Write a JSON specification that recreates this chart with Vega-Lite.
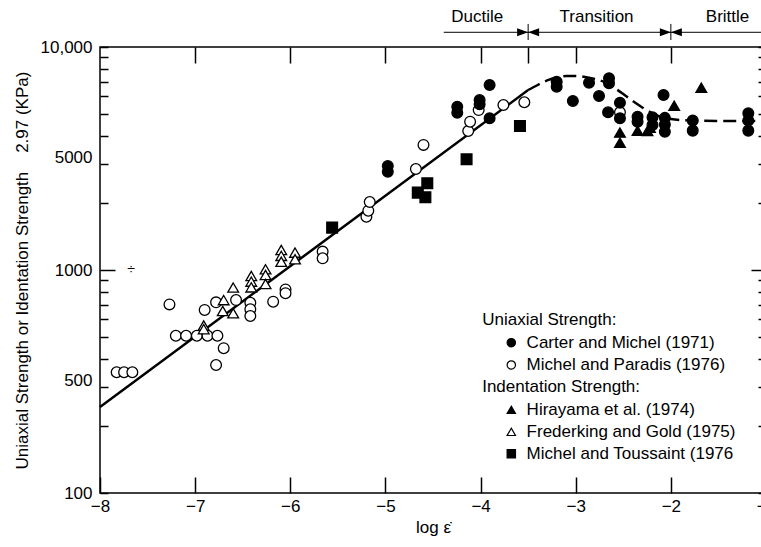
{
  "$schema": "https://vega.github.io/schema/vega-lite/v6.json",
  "width": 666,
  "height": 446,
  "autosize": {"type": "none"},
  "padding": {"left": 100, "top": 47, "right": 0, "bottom": 54},
  "background": "#ffffff",
  "config": {
    "font": "Liberation Sans",
    "view": {"stroke": "#000000", "strokeWidth": 1.5},
    "axis": {
      "domain": false, "grid": false,
      "labelFont": "Liberation Sans", "labelFontSize": 17, "labelColor": "#000000",
      "titleFont": "Liberation Sans", "titleFontSize": 17, "titleColor": "#000000", "titleFontWeight": "normal",
      "tickColor": "#000000", "tickWidth": 1.5, "labelFlush": false, "labelOverlap": false
    }
  },
  "datasets": {
    "pts": [
      {"x": -7.825, "y": 348, "s": "Michel and Paradis (1976)"},
      {"x": -7.747, "y": 348, "s": "Michel and Paradis (1976)"},
      {"x": -7.66, "y": 348, "s": "Michel and Paradis (1976)"},
      {"x": -7.27, "y": 701, "s": "Michel and Paradis (1976)"},
      {"x": -7.203, "y": 507, "s": "Michel and Paradis (1976)"},
      {"x": -7.095, "y": 507, "s": "Michel and Paradis (1976)"},
      {"x": -6.982, "y": 507, "s": "Michel and Paradis (1976)"},
      {"x": -6.87, "y": 507, "s": "Michel and Paradis (1976)"},
      {"x": -6.766, "y": 507, "s": "Michel and Paradis (1976)"},
      {"x": -6.90, "y": 662, "s": "Michel and Paradis (1976)"},
      {"x": -6.78, "y": 716, "s": "Michel and Paradis (1976)"},
      {"x": -6.70, "y": 446, "s": "Michel and Paradis (1976)"},
      {"x": -6.78, "y": 375, "s": "Michel and Paradis (1976)"},
      {"x": -6.57, "y": 733, "s": "Michel and Paradis (1976)"},
      {"x": -6.42, "y": 713, "s": "Michel and Paradis (1976)"},
      {"x": -6.42, "y": 667, "s": "Michel and Paradis (1976)"},
      {"x": -6.42, "y": 622, "s": "Michel and Paradis (1976)"},
      {"x": -6.18, "y": 721, "s": "Michel and Paradis (1976)"},
      {"x": -6.05, "y": 818, "s": "Michel and Paradis (1976)"},
      {"x": -6.05, "y": 787, "s": "Michel and Paradis (1976)"},
      {"x": -5.66, "y": 1209, "s": "Michel and Paradis (1976)"},
      {"x": -5.66, "y": 1128, "s": "Michel and Paradis (1976)"},
      {"x": -5.20, "y": 1734, "s": "Michel and Paradis (1976)"},
      {"x": -5.18, "y": 1845, "s": "Michel and Paradis (1976)"},
      {"x": -5.165, "y": 2018, "s": "Michel and Paradis (1976)"},
      {"x": -4.68, "y": 2838, "s": "Michel and Paradis (1976)"},
      {"x": -4.60, "y": 3639, "s": "Michel and Paradis (1976)"},
      {"x": -4.13, "y": 4200, "s": "Michel and Paradis (1976)"},
      {"x": -4.11, "y": 4625, "s": "Michel and Paradis (1976)"},
      {"x": -4.02, "y": 5214, "s": "Michel and Paradis (1976)"},
      {"x": -3.76, "y": 5495, "s": "Michel and Paradis (1976)"},
      {"x": -3.54, "y": 5652, "s": "Michel and Paradis (1976)"},
      {"x": -2.535, "y": 5095, "s": "Michel and Paradis (1976)"},
      {"x": -6.91, "y": 564, "s": "Frederking and Gold (1975)"},
      {"x": -6.91, "y": 543, "s": "Frederking and Gold (1975)"},
      {"x": -6.70, "y": 733, "s": "Frederking and Gold (1975)"},
      {"x": -6.71, "y": 655, "s": "Frederking and Gold (1975)"},
      {"x": -6.60, "y": 640, "s": "Frederking and Gold (1975)"},
      {"x": -6.60, "y": 834, "s": "Frederking and Gold (1975)"},
      {"x": -6.41, "y": 940, "s": "Frederking and Gold (1975)"},
      {"x": -6.41, "y": 887, "s": "Frederking and Gold (1975)"},
      {"x": -6.41, "y": 836, "s": "Frederking and Gold (1975)"},
      {"x": -6.26, "y": 1007, "s": "Frederking and Gold (1975)"},
      {"x": -6.26, "y": 950, "s": "Frederking and Gold (1975)"},
      {"x": -6.26, "y": 865, "s": "Frederking and Gold (1975)"},
      {"x": -6.095, "y": 1230, "s": "Frederking and Gold (1975)"},
      {"x": -6.095, "y": 1157, "s": "Frederking and Gold (1975)"},
      {"x": -6.095, "y": 1089, "s": "Frederking and Gold (1975)"},
      {"x": -5.95, "y": 1197, "s": "Frederking and Gold (1975)"},
      {"x": -5.95, "y": 1117, "s": "Frederking and Gold (1975)"},
      {"x": -4.975, "y": 2925, "s": "Carter and Michel (1971)"},
      {"x": -4.975, "y": 2761, "s": "Carter and Michel (1971)"},
      {"x": -4.245, "y": 5398, "s": "Carter and Michel (1971)"},
      {"x": -4.245, "y": 5073, "s": "Carter and Michel (1971)"},
      {"x": -4.01, "y": 5785, "s": "Carter and Michel (1971)"},
      {"x": -4.01, "y": 5532, "s": "Carter and Michel (1971)"},
      {"x": -3.905, "y": 6756, "s": "Carter and Michel (1971)"},
      {"x": -3.905, "y": 4787, "s": "Carter and Michel (1971)"},
      {"x": -3.2, "y": 6982, "s": "Carter and Michel (1971)"},
      {"x": -3.2, "y": 6634, "s": "Carter and Michel (1971)"},
      {"x": -3.03, "y": 5728, "s": "Carter and Michel (1971)"},
      {"x": -2.86, "y": 6918, "s": "Carter and Michel (1971)"},
      {"x": -2.755, "y": 6026, "s": "Carter and Michel (1971)"},
      {"x": -2.65, "y": 7244, "s": "Carter and Michel (1971)"},
      {"x": -2.65, "y": 6877, "s": "Carter and Michel (1971)"},
      {"x": -2.66, "y": 5095, "s": "Carter and Michel (1971)"},
      {"x": -2.535, "y": 5626, "s": "Carter and Michel (1971)"},
      {"x": -2.535, "y": 4787, "s": "Carter and Michel (1971)"},
      {"x": -2.35, "y": 4870, "s": "Carter and Michel (1971)"},
      {"x": -2.35, "y": 4625, "s": "Carter and Michel (1971)"},
      {"x": -2.193, "y": 4842, "s": "Carter and Michel (1971)"},
      {"x": -2.193, "y": 4470, "s": "Carter and Michel (1971)"},
      {"x": -2.063, "y": 4810, "s": "Carter and Michel (1971)"},
      {"x": -2.063, "y": 4488, "s": "Carter and Michel (1971)"},
      {"x": -2.063, "y": 4169, "s": "Carter and Michel (1971)"},
      {"x": -2.077, "y": 6095, "s": "Carter and Michel (1971)"},
      {"x": -1.77, "y": 4677, "s": "Carter and Michel (1971)"},
      {"x": -1.77, "y": 4217, "s": "Carter and Michel (1971)"},
      {"x": -1.186, "y": 5047, "s": "Carter and Michel (1971)"},
      {"x": -1.186, "y": 4677, "s": "Carter and Michel (1971)"},
      {"x": -1.186, "y": 4217, "s": "Carter and Michel (1971)"},
      {"x": -2.535, "y": 4133, "s": "Hirayama et al. (1974)"},
      {"x": -2.535, "y": 3726, "s": "Hirayama et al. (1974)"},
      {"x": -2.35, "y": 4217, "s": "Hirayama et al. (1974)"},
      {"x": -2.246, "y": 4200, "s": "Hirayama et al. (1974)"},
      {"x": -2.22, "y": 4350, "s": "Hirayama et al. (1974)"},
      {"x": -1.965, "y": 5457, "s": "Hirayama et al. (1974)"},
      {"x": -1.68, "y": 6566, "s": "Hirayama et al. (1974)"},
      {"x": -5.56, "y": 1549, "s": "Michel and Toussaint (1976)"},
      {"x": -4.66, "y": 2223, "s": "Michel and Toussaint (1976)"},
      {"x": -4.56, "y": 2448, "s": "Michel and Toussaint (1976)"},
      {"x": -4.58, "y": 2119, "s": "Michel and Toussaint (1976)"},
      {"x": -4.147, "y": 3135, "s": "Michel and Toussaint (1976)"},
      {"x": -3.586, "y": 4428, "s": "Michel and Toussaint (1976)"}
    ],
    "solid": [{"x": -8, "y": 243}, {"x": -3.5, "y": 6412}],
    "dash": [
      {"x": -3.5, "y": 6412}, {"x": -3.4, "y": 6755}, {"x": -3.3, "y": 7079},
      {"x": -3.2, "y": 7300}, {"x": -3.1, "y": 7413}, {"x": -3.0, "y": 7413},
      {"x": -2.9, "y": 7338}, {"x": -2.8, "y": 7186}, {"x": -2.7, "y": 6966},
      {"x": -2.6, "y": 6581}, {"x": -2.5, "y": 6155}, {"x": -2.4, "y": 5726},
      {"x": -2.3, "y": 5355}, {"x": -2.2, "y": 5058}, {"x": -2.1, "y": 4855},
      {"x": -2.0, "y": 4754}, {"x": -1.8, "y": 4682}, {"x": -1.5, "y": 4658},
      {"x": -1.0, "y": 4658}
    ],
    "legsym": [
      {"x": -3.677, "y": 472, "s": "Carter and Michel (1971)"},
      {"x": -3.677, "y": 375, "s": "Michel and Paradis (1976)"},
      {"x": -3.677, "y": 236, "s": "Hirayama et al. (1974)"},
      {"x": -3.677, "y": 188, "s": "Frederking and Gold (1975)"},
      {"x": -3.677, "y": 150, "s": "Michel and Toussaint (1976)"}
    ],
    "legtext": [
      {"x": -3.983, "y": 597, "t": "Uniaxial Strength:"},
      {"x": -3.516, "y": 472, "t": "Carter and Michel (1971)"},
      {"x": -3.516, "y": 375, "t": "Michel and Paradis (1976)"},
      {"x": -3.983, "y": 300, "t": "Indentation Strength:"},
      {"x": -3.516, "y": 236, "t": "Hirayama et al. (1974)"},
      {"x": -3.516, "y": 188, "t": "Frederking and Gold (1975)"},
      {"x": -3.516, "y": 150, "t": "Michel and Toussaint (1976"}
    ],
    "notes": [
      {"x": -4.035, "y": 13590, "t": "Ductile"},
      {"x": -2.781, "y": 13590, "t": "Transition"},
      {"x": -1.404, "y": 13590, "t": "Brittle"}
    ],
    "rules": [
      {"x": -4.387, "x2": -1.0, "y": 11640, "y2": 11640},
      {"x": -3.5, "x2": -3.5, "y": 10750, "y2": 12690},
      {"x": -2.0, "x2": -2.0, "y": 10750, "y2": 12690}
    ],
    "arrows": [
      {"x": -3.5, "y": 11640, "d": "right"},
      {"x": -3.5, "y": 11640, "d": "left"},
      {"x": -2.0, "y": 11640, "d": "right"},
      {"x": -2.0, "y": 11640, "d": "left"}
    ],
    "stray": [{"x": -7.674, "y": 1000, "t": "÷"}]
  },
  "layer": [
    {
      "data": {"name": "solid"},
      "mark": {"type": "line", "color": "#000000", "strokeWidth": 2.5},
      "encoding": {
        "x": {"field": "x", "type": "quantitative", "scale": {"domain": [-8, -1], "nice": false, "zero": false}, "axis": null},
        "y": {"field": "y", "type": "quantitative", "scale": {"type": "log", "domain": [100, 10000], "nice": false}, "axis": null}
      }
    },
    {
      "data": {"name": "dash"},
      "mark": {"type": "line", "color": "#000000", "strokeWidth": 2.5, "strokeDash": [13, 6], "interpolate": "monotone"},
      "encoding": {
        "x": {"field": "x", "type": "quantitative", "scale": {"domain": [-8, -1], "nice": false, "zero": false},
          "axis": {"orient": "top", "values": [-7, -6, -5, -4, -3.5, -3, -2], "tickSize": -16, "labels": false, "title": null}},
        "y": {"field": "y", "type": "quantitative", "scale": {"type": "log", "domain": [100, 10000], "nice": false},
          "axis": {"orient": "right", "values": [100, 200, 300, 400, 500, 600, 700, 800, 900, 1000, 2000, 3000, 4000, 5000, 6000, 7000, 8000, 9000, 10000],
            "tickSize": {"condition": {"test": "datum.value == 1000", "value": -15}, "value": -8}, "labels": false, "title": null}}
      }
    },
    {
      "data": {"name": "pts"},
      "mark": {"type": "point", "stroke": "#000000", "strokeWidth": 1.3, "opacity": 1, "size": 115},
      "encoding": {
        "x": {"field": "x", "type": "quantitative", "scale": {"domain": [-8, -1], "nice": false, "zero": false},
          "axis": {"orient": "bottom", "values": [-8, -7, -6, -5, -4, -3, -2, -1], "tickSize": -16, "labelPadding": 21,
            "title": "log ε̇", "titleX": 333, "titleY": 34, "titleBaseline": "middle", "titleAlign": "center"}},
        "y": {"field": "y", "type": "quantitative", "scale": {"type": "log", "domain": [100, 10000], "nice": false},
          "axis": {"orient": "left", "values": [100, 200, 300, 400, 500, 600, 700, 800, 900, 1000, 2000, 3000, 4000, 5000, 6000, 7000, 8000, 9000, 10000],
            "labelExpr": "datum.value == 10000 ? '10,000' : datum.value == 3000 ? '5000' : datum.value == 1000 ? '1000' : datum.value == 300 ? '500' : datum.value == 100 ? '100' : ''",
            "tickSize": {"condition": {"test": "datum.value == 1000", "value": -15}, "value": -8},
            "labelPadding": {"condition": {"test": "datum.value == 1000", "value": 23}, "value": 16},
            "labelOffset": {"condition": {"test": "datum.value == 3000 || datum.value == 300", "value": -6}, "value": 0},
            "title": "Uniaxial Strength or Identation Strength\u00a0\u00a0\u00a0\u00a02.97 (KPa)",
            "titleX": -78, "titleY": 223, "titleAngle": -90, "titleAlign": "center", "titleBaseline": "middle"}},
        "shape": {"field": "s", "type": "nominal", "legend": null,
          "scale": {"domain": ["Carter and Michel (1971)", "Michel and Paradis (1976)", "Hirayama et al. (1974)", "Frederking and Gold (1975)", "Michel and Toussaint (1976)"],
            "range": ["circle", "circle", "triangle-up", "triangle-up", "square"]}},
        "fill": {"field": "s", "type": "nominal", "legend": null,
          "scale": {"domain": ["Carter and Michel (1971)", "Michel and Paradis (1976)", "Hirayama et al. (1974)", "Frederking and Gold (1975)", "Michel and Toussaint (1976)"],
            "range": ["#000000", "#ffffff", "#000000", "#ffffff", "#000000"]}}
      }
    },
    {
      "data": {"name": "legsym"},
      "mark": {"type": "point", "stroke": "#000000", "strokeWidth": 1.2, "opacity": 1, "size": 70},
      "encoding": {
        "x": {"field": "x", "type": "quantitative", "axis": null},
        "y": {"field": "y", "type": "quantitative", "scale": {"type": "log"}, "axis": null},
        "shape": {"field": "s", "type": "nominal", "legend": null},
        "fill": {"field": "s", "type": "nominal", "legend": null}
      }
    },
    {
      "data": {"name": "legtext"},
      "mark": {"type": "text", "align": "left", "baseline": "middle", "fontSize": 17, "font": "Liberation Sans", "color": "#000000"},
      "encoding": {
        "x": {"field": "x", "type": "quantitative", "axis": null},
        "y": {"field": "y", "type": "quantitative", "scale": {"type": "log"}, "axis": null},
        "text": {"field": "t"}
      }
    },
    {
      "data": {"name": "notes"},
      "mark": {"type": "text", "align": "center", "baseline": "middle", "fontSize": 17, "font": "Liberation Sans", "color": "#000000"},
      "encoding": {
        "x": {"field": "x", "type": "quantitative", "axis": null},
        "y": {"field": "y", "type": "quantitative", "scale": {"type": "log"}, "axis": null},
        "text": {"field": "t"}
      }
    },
    {
      "data": {"name": "stray"},
      "mark": {"type": "text", "align": "center", "baseline": "middle", "fontSize": 14, "font": "Liberation Sans", "color": "#000000"},
      "encoding": {
        "x": {"field": "x", "type": "quantitative", "axis": null},
        "y": {"field": "y", "type": "quantitative", "scale": {"type": "log"}, "axis": null},
        "text": {"field": "t"}
      }
    },
    {
      "data": {"name": "rules"},
      "mark": {"type": "rule", "color": "#000000", "strokeWidth": 1},
      "encoding": {
        "x": {"field": "x", "type": "quantitative", "axis": null},
        "x2": {"field": "x2"},
        "y": {"field": "y", "type": "quantitative", "scale": {"type": "log"}, "axis": null},
        "y2": {"field": "y2"}
      }
    },
    {
      "data": {"name": "arrows"},
      "transform": [{"filter": "datum.d == 'right'"}],
      "mark": {"type": "point", "shape": "M0,0L-2,-0.727L-2,0.727Z", "filled": true, "color": "#000000", "opacity": 1, "size": 121, "strokeWidth": 0},
      "encoding": {
        "x": {"field": "x", "type": "quantitative", "axis": null},
        "y": {"field": "y", "type": "quantitative", "scale": {"type": "log"}, "axis": null}
      }
    },
    {
      "data": {"name": "arrows"},
      "transform": [{"filter": "datum.d == 'left'"}],
      "mark": {"type": "point", "shape": "M0,0L2,-0.727L2,0.727Z", "filled": true, "color": "#000000", "opacity": 1, "size": 121, "strokeWidth": 0},
      "encoding": {
        "x": {"field": "x", "type": "quantitative", "axis": null},
        "y": {"field": "y", "type": "quantitative", "scale": {"type": "log"}, "axis": null}
      }
    }
  ],
  "resolve": {"axis": {"x": "independent", "y": "independent"}}
}
